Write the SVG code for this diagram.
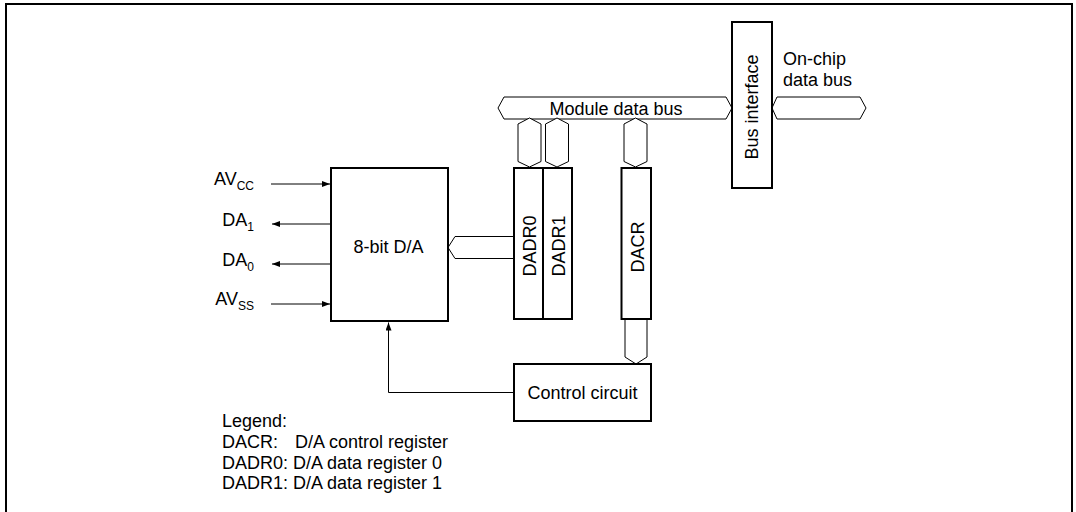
<svg xmlns="http://www.w3.org/2000/svg" width="1076" height="512" viewBox="0 0 1076 512">
<style>
text{font-family:"Liberation Sans",Arial,sans-serif;font-size:18px;fill:#000}
.sub{font-size:12px}
.box{fill:#fff;stroke:#000;stroke-width:2}
.bus{fill:#fff;stroke:#000;stroke-width:1}
.wire{fill:none;stroke:#000;stroke-width:1}
.frame{fill:none;stroke:#000;stroke-width:2}
</style>
<defs>
<marker id="arr" markerUnits="userSpaceOnUse" markerWidth="9" markerHeight="6" refX="8" refY="3" orient="auto">
<path d="M0,0 L8,3 L0,6 Z" fill="#000"/>
</marker>
</defs>
<rect width="1076" height="512" fill="#fff"/>
<path class="frame" d="M6,520 V4 H1072 V520"/>

<g id="connectors">
<path class="bus" d="M498,108 L504,97 H726 L732,108 L726,119 H504 Z"/>
<path class="bus" d="M772,108 L777,97 H860 L866,108 L860,119 H777 Z"/>
<path class="bus" d="M529.5,118 L541,124 V161.5 L529.5,167 L518,161.5 V124 Z"/>
<path class="bus" d="M557,118 L568.5,124 V161.5 L557,167 L545.5,161.5 V124 Z"/>
<path class="bus" d="M635.5,118 L647,124 V161.5 L635.5,167 L624,161.5 V124 Z"/>
<path class="bus" d="M625,320 V357 L636,364 L647,357 V320"/>
<path class="bus" d="M514,236.5 H455 L448,247.5 L455,258.5 H514"/>
<line class="wire" x1="271" y1="184" x2="330" y2="184" marker-end="url(#arr)"/>
<line class="wire" x1="330" y1="224" x2="272" y2="224" marker-end="url(#arr)"/>
<line class="wire" x1="330" y1="264" x2="272" y2="264" marker-end="url(#arr)"/>
<line class="wire" x1="271" y1="304" x2="330" y2="304" marker-end="url(#arr)"/>
<path class="wire" d="M514,392.5 H388.5 V322.5" marker-end="url(#arr)"/>
</g>

<g id="da">
<rect class="box" x="331" y="168" width="117" height="153"/>
<text x="388.5" y="253" text-anchor="middle">8-bit D/A</text>
</g>
<g id="dadr0">
<rect class="box" x="514" y="168" width="29" height="151"/>
<text transform="translate(536,246) rotate(-90)" text-anchor="middle">DADR0</text>
</g>
<g id="dadr1">
<rect class="box" x="543" y="168" width="29" height="151"/>
<text transform="translate(564.5,246) rotate(-90)" text-anchor="middle">DADR1</text>
</g>
<g id="dacr">
<rect class="box" x="621.5" y="168" width="29.5" height="151"/>
<text transform="translate(643.5,247) rotate(-90)" text-anchor="middle">DACR</text>
</g>
<g id="busif">
<rect class="box" x="732" y="22" width="40" height="166"/>
<text transform="translate(757.5,107) rotate(-90)" text-anchor="middle">Bus interface</text>
</g>
<g id="ctrl">
<rect class="box" x="514" y="364" width="137" height="57"/>
<text x="582.5" y="399" text-anchor="middle">Control circuit</text>
</g>

<g id="labels">
<text x="616" y="115" text-anchor="middle">Module data bus</text>
<text x="783" y="65">On-chip</text>
<text x="783" y="86">data bus</text>
<text x="254" y="185" text-anchor="end">AV<tspan class="sub" dy="5">CC</tspan></text>
<text x="254" y="226" text-anchor="end">DA<tspan class="sub" dy="5">1</tspan></text>
<text x="254" y="266" text-anchor="end">DA<tspan class="sub" dy="5">0</tspan></text>
<text x="254" y="305" text-anchor="end">AV<tspan class="sub" dy="5">SS</tspan></text>
</g>

<g id="legend">
<text x="222" y="427">Legend:</text>
<text x="222" y="448">DACR:<tspan x="295">D/A control register</tspan></text>
<text x="222" y="469">DADR0: D/A data register 0</text>
<text x="222" y="489">DADR1: D/A data register 1</text>
</g>
</svg>
